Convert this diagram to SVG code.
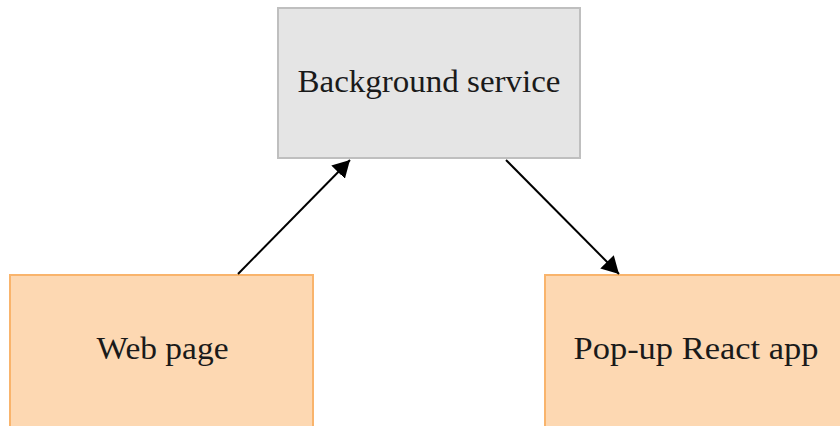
<svg xmlns="http://www.w3.org/2000/svg" width="840" height="426" viewBox="0 0 840 426">
  <style>
    .label { font-family: "Liberation Serif", "DejaVu Serif", serif; font-size: 32.5px; fill: #1a1a1a; text-anchor: middle; }
    .grey { fill: #e5e5e5; stroke: #bfbfbf; stroke-width: 2; }
    .orange { fill: #fdd8b2; stroke: #f9b46c; stroke-width: 2; }
    .edge { stroke: #000; stroke-width: 2; fill: none; marker-end: url(#head); }
  </style>
  <defs>
    <!-- solid triangular arrowhead, sized in user units -->
    <marker id="head" markerUnits="userSpaceOnUse" markerWidth="18" markerHeight="19" refX="17" refY="9.5" orient="auto" viewBox="0 0 18 19">
      <path d="M0,0 L17,9.5 L0,19 Z" fill="#000"/>
    </marker>
  </defs>
  <rect width="840" height="426" fill="#fff"/>

  <g id="background-service">
    <rect class="grey" x="278" y="8" width="302" height="150"/>
    <text class="label" x="429" y="92" textLength="263" lengthAdjust="spacingAndGlyphs">Background service</text>
  </g>

  <g id="web-page">
    <rect class="orange" x="10" y="275" width="303" height="160"/>
    <text class="label" x="162.5" y="359" textLength="132" lengthAdjust="spacingAndGlyphs">Web page</text>
  </g>

  <g id="popup-react-app">
    <rect class="orange" x="545" y="275" width="305" height="160"/>
    <text class="label" x="696" y="359" textLength="245" lengthAdjust="spacingAndGlyphs">Pop-up React app</text>
  </g>

  <g id="connectors">
    <line class="edge" x1="238" y1="274" x2="350" y2="160"/>
    <line class="edge" x1="506" y1="160" x2="619" y2="274"/>
  </g>
</svg>
